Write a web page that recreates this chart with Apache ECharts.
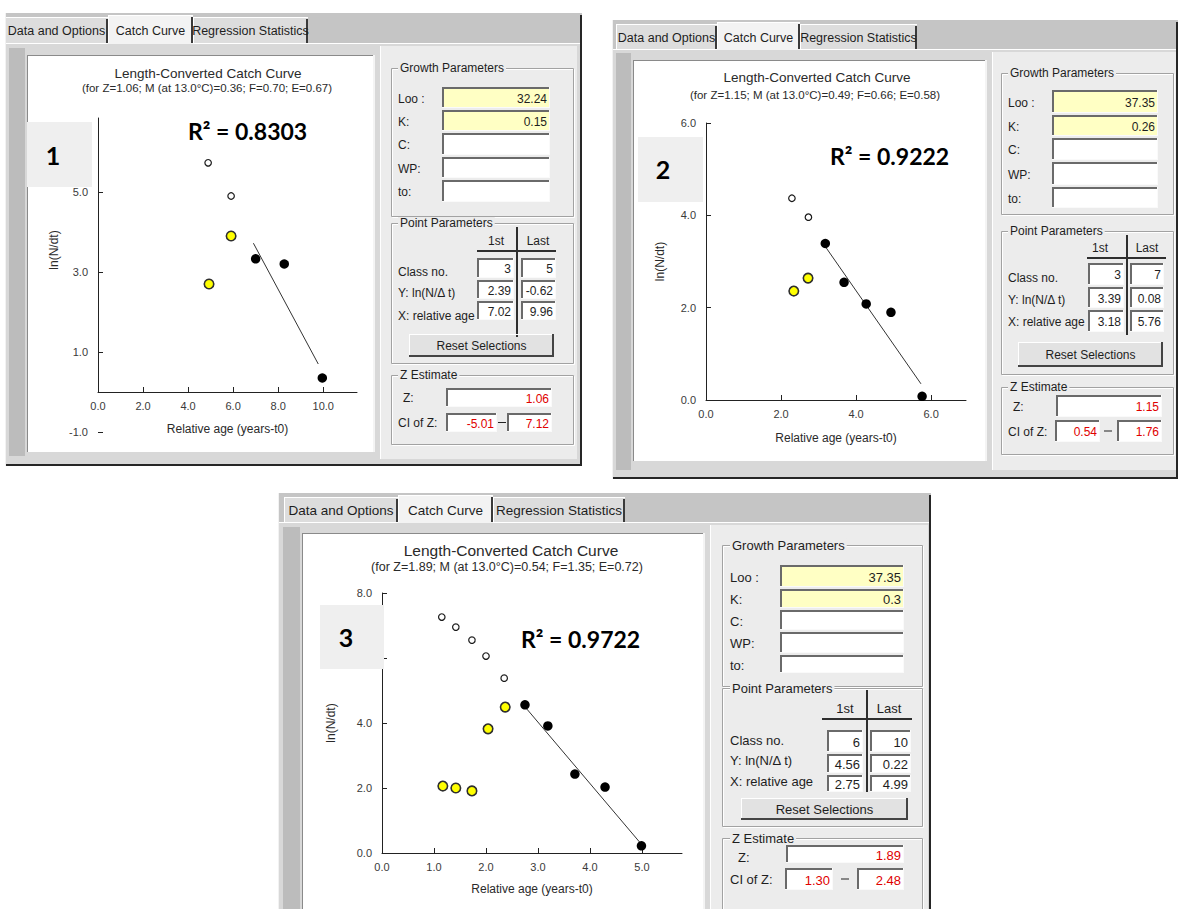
<!DOCTYPE html>
<html><head><meta charset="utf-8">
<script src="https://cdn.jsdelivr.net/npm/echarts@6/dist/echarts.min.js"></script>
<style>html,body{margin:0;padding:0;background:#fff}#c{width:1178px;height:909px}</style>
</head><body><div id="c"></div>
<script>
// ---------------- DATA ----------------
// Panel 1
const p1OpenPts   = [[4.89,5.73],[5.91,4.90]];
const p1YellowPts = [[4.93,2.70],[5.91,3.90]];
const p1BlackPts  = [[7.00,3.33],[8.27,3.20],[9.96,0.35]];
const p1RegLine   = [[6.90,3.72],[9.78,0.70]];
const p1XTicks = [0,2,4,6,8,10];
const p1YTicks = [-1,1,3,5];
// Panel 2
const p2OpenPts   = [[2.29,4.37],[2.73,3.96]];
const p2YellowPts = [[2.34,2.36],[2.72,2.64]];
const p2BlackPts  = [[3.18,3.39],[3.68,2.55],[4.27,2.08],[4.93,1.90],[5.76,0.08]];
const p2RegLine   = [[3.20,3.30],[5.73,0.35]];
const p2XTicks = [0,2,4,6];
const p2YTicks = [0,2,4,6];
// Panel 3
const p3OpenPts   = [[1.15,7.26],[1.42,6.95],[1.73,6.55],[2.00,6.06],[2.35,5.38]];
const p3YellowPts = [[1.17,2.06],[1.42,2.00],[1.73,1.91],[2.04,3.82],[2.37,4.49]];
const p3BlackPts  = [[2.75,4.56],[3.19,3.91],[3.71,2.43],[4.29,2.03],[4.99,0.22]];
const p3RegLine   = [[2.77,4.46],[5.00,0.25]];
const p3XTicks = [0,1,2,3,4,5];
const p3YTicks = [0,2,4,6,8];
// Texts
const tabNames = ['Data and Options','Catch Curve','Regression Statistics'];
const chartTitle = 'Length-Converted Catch Curve';
const chartSubtitles = [
  '(for Z=1.06; M (at 13.0°C)=0.36; F=0.70; E=0.67)',
  '(for Z=1.15; M (at 13.0°C)=0.49; F=0.66; E=0.58)',
  '(for Z=1.89; M (at 13.0°C)=0.54; F=1.35; E=0.72)'];
const xAxisName = 'Relative age (years-t0)';
const yAxisName = 'ln(N/dt)';
const panelLabels = ['1','2','3'];
const rSquared = ['0.8303','0.9222','0.9722'];
const growthLabels = ['Loo :','K:','C:','WP:','to:'];
const growthLoo = ['32.24','37.35','37.35'];
const growthK = ['0.15','0.26','0.3'];
const pointLabels = ['Class no.','Y: ln(N/\u0394 t)','X: relative age'];
const classNo = [['3','5'],['3','7'],['6','10']];
const lnN = [['2.39','-0.62'],['3.39','0.08'],['4.56','0.22']];
const relAge = [['7.02','9.96'],['3.18','5.76'],['2.75','4.99']];
const zValue = ['1.06','1.15','1.89'];
const ciZ = [['-5.01','7.12'],['0.54','1.76'],['1.30','2.48']];

// ---------------- HELPERS ----------------
const FF = '"Liberation Sans", Arial, sans-serif';
const G = [];
function R(x0,y0,x1,y1,fill,z){G.push({type:'rect',silent:true,z:z===undefined?-10:z,shape:{x:x0,y:y0,width:x1-x0,height:y1-y0},style:{fill:fill}});}
function B(x0,y0,x1,y1,color,z){G.push({type:'rect',silent:true,z:z===undefined?-7:z,shape:{x:x0,y:y0,width:x1-x0,height:y1-y0},style:{fill:'none',stroke:color,lineWidth:1}});}
function Ln(x0,y0,x1,y1,color,w,z){G.push({type:'line',silent:true,z:z===undefined?-7:z,shape:{x1:x0,y1:y0,x2:x1,y2:y1},style:{stroke:color,lineWidth:w||1}});}
function T(x,y,s,o){o=o||{};const st={text:s,x:x,y:y,font:(o.w||'normal')+' '+(o.size||12)+'px '+(o.fam||FF),fill:o.color||'#1e1e1e',textAlign:o.align||'left',textVerticalAlign:'middle'};
  if(o.bg){st.backgroundColor=o.bg;st.padding=[0,2,0,2];}
  G.push({type:'text',silent:true,z:o.z===undefined?-5:o.z,style:st});}
function Input(x0,y0,x1,y1,val,fill,color,size){
  R(x0,y0,x1,y1,fill,-8);
  Ln(x0,y0+1,x1,y0+1,'#6a6a6a',2,-7); Ln(x0+1,y0,x0+1,y1,'#6a6a6a',2,-7);
  Ln(x0,y1-0.5,x1,y1-0.5,'#fafafa',1,-7); Ln(x1-0.5,y0,x1-0.5,y1,'#fafafa',1,-7);
  if(val) T(x1-3,(y0+y1)/2+1,val,{size:size,color:color,align:'right'});
}
function Group(x0,y0,x1,y1,label,lx,size){
  B(x0+0.5,y0+0.5,x1-0.5,y1-0.5,'#a2a2a2'); B(x0+1.5,y0+1.5,x1+0.5,y1+0.5,'#ffffff',-8);
  T(lx,y0,label,{size:size,bg:'#ececec'});
}
function Button(x0,y0,x1,y1,label,size){
  R(x0,y0,x1,y1,'#e2e2e2',-8);
  Ln(x0,y0+0.5,x1,y0+0.5,'#ffffff',1); Ln(x0+0.5,y0,x0+0.5,y1,'#ffffff',1);
  Ln(x0,y1-1,x1,y1-1,'#444',2); Ln(x1-1,y0,x1-1,y1,'#444',2);
  T((x0+x1)/2,(y0+y1)/2,label,{size:size,align:'center'});
}
function Win(W){
  R(W.x0,W.y0,W.x1,W.y1,'#c5c5c5',-12);
  R(W.x0,W.ty1,W.x1,W.y1,'#d8d8d8',-11);
  W.tabs.forEach(function(t,i){
    const sel=i===1; const y0=sel?W.ty0-2:W.ty0;
    R(t[0],y0,t[1],W.ty1+(sel?1:0),sel?'#f3f3f3':'#dddddd',-10);
    Ln(t[0]+0.5,y0,t[0]+0.5,W.ty1,'#ffffff',1,-9); Ln(t[0],y0+0.5,t[1],y0+0.5,'#ffffff',1,-9);
    Ln(t[1]-1,y0+2,t[1]-1,W.ty1,'#3a3a3a',2,-9);
    T((t[0]+t[1])/2,(W.ty0+W.ty1)/2+1,tabNames[i],{size:W.tfs,align:'center'});
  });
  Ln(W.x0,W.ty1+0.5,W.tabs[1][0],W.ty1+0.5,'#ffffff',1,-9);
  Ln(W.tabs[1][1],W.ty1+0.5,W.x1,W.ty1+0.5,'#ffffff',1,-9);
  R(W.strip[0],W.strip[1],W.strip[2],W.strip[3],'#bcbcbc',-10);
  R(W.white[0],W.white[1],W.white[2],W.white[3],'#ffffff',-10);
  Ln(W.white[0],W.white[1]+0.5,W.white[2],W.white[1]+0.5,'#8a8a8a',1,-9);
  Ln(W.white[0]+0.5,W.white[1],W.white[0]+0.5,W.white[3],'#8a8a8a',1,-9);
  Ln(W.white[2]+1,W.white[1],W.white[2]+1,W.white[3],'#f4f4f4',2,-9);
  Ln(W.x0,W.y1-1,W.x1,W.y1-1,'#262626',2,-9);
  Ln(W.x1-1,W.y0+2,W.x1-1,W.y1,'#262626',2,-9);
  Ln(W.x0+0.5,W.y0,W.x0+0.5,W.y1,'#f2f2f2',1,-9);
}
function Right(L,k){
  const fs=L.fs;
  R(L.bg[0],L.bg[1],L.bg[2],L.bg[3],'#ececec',-10);
  Ln(L.bg[0]+0.5,L.bg[1],L.bg[0]+0.5,L.bg[3],'#ffffff',1,-9);
  Group(L.gx0,L.g1[0],L.gx1,L.g1[1],'Growth Parameters',L.lx,fs);
  growthLabels.forEach(function(t,i){
    const r=L.rows[i];
    T(L.lx,(r[0]+r[1])/2+1,t,{size:fs});
    const v=i===0?growthLoo[k]:(i===1?growthK[k]:'');
    Input(L.inp[0],r[0],L.inp[1],r[1],v,i<2?'#ffffc4':'#ffffff','#1e1e1e',fs);
  });
  Group(L.gx0,L.g2[0],L.gx1,L.g2[1],'Point Parameters',L.lx,fs);
  T(L.c1x,L.hy,'1st',{size:fs,align:'center'});
  T(L.c2x,L.hy,'Last',{size:fs,align:'center'});
  Ln(L.hl[0],L.hl[2],L.hl[1],L.hl[2],'#2e2e2e',2);
  Ln(L.vl[0],L.vl[1],L.vl[0],L.vl[2],'#2e2e2e',2);
  const pv=[classNo[k],lnN[k],relAge[k]];
  pointLabels.forEach(function(t,i){
    const r=L.prow[i];
    T(L.lx,L.plabY[i],t,{size:fs});
    Input(L.cols[0][0],r[0],L.cols[0][1],r[1],pv[i][0],'#ffffff','#1e1e1e',fs);
    Input(L.cols[1][0],r[0],L.cols[1][1],r[1],pv[i][1],'#ffffff','#1e1e1e',fs);
  });
  Button(L.btn[0],L.btn[1],L.btn[2],L.btn[3],'Reset Selections',fs);
  Group(L.gx0,L.g3[0],L.gx1,L.g3[1],'Z Estimate',L.lx,fs);
  T(L.zl[0],L.zl[1],'Z:',{size:fs});
  Input(L.zbox[0],L.zbox[1],L.zbox[2],L.zbox[3],zValue[k],'#ffffff','#e00000',fs);
  T(L.cil[0],L.cil[1],'CI of Z:',{size:fs});
  Input(L.ci1[0],L.ciY[0],L.ci1[1],L.ciY[1],ciZ[k][0],'#ffffff','#e00000',fs);
  Ln(L.dash-4,(L.ciY[0]+L.ciY[1])/2,L.dash+4,(L.ciY[0]+L.ciY[1])/2,'#222',1);
  Input(L.ci2[0],L.ciY[0],L.ci2[1],L.ciY[1],ciZ[k][1],'#ffffff','#e00000',fs);
}

// ---------------- CHROME ----------------
Win({x0:5,y0:13,x1:582,y1:466,ty0:17,ty1:43,tfs:12.5,tabs:[[5,108],[108,193],[193,308]],strip:[9,48,25,456],white:[27,55,373,452]});
Win({x0:612,y0:20,x1:1178,y1:479,ty0:24,ty1:49,tfs:12.5,tabs:[[616,717],[717,800],[800,917]],strip:[616,53,631,470],white:[633,60,985,461]});
Win({x0:278,y0:493,x1:931,y1:912,ty0:497,ty1:522,tfs:13.5,tabs:[[284,398],[398,493],[493,625]],strip:[283,527,300,912],white:[302,533,703,912]});

Right({fs:12,bg:[380,46,577,459],gx0:391,gx1:574,lx:398,g1:[68,217],
  rows:[[87,108],[110,131],[133,155],[157,178],[180,202]],inp:[442,550],
  g2:[223,364],hy:241,c1x:496,c2x:538,hl:[477,556,251],vl:[517,227,337],
  cols:[[477,514],[521,556]],prow:[[258,278],[280,299],[301,320]],plabY:[272,293,316],
  btn:[409,334,554,357],g3:[375,445],zl:[403,398],zbox:[446,388,552,407],
  cil:[398,423],ci1:[446,497],ci2:[507,552],ciY:[413,432],dash:502},0);
Right({fs:12,bg:[992,52,1176,470],gx0:1001,gx1:1174,lx:1008,g1:[73,215],
  rows:[[90,113],[115,136],[138,160],[162,185],[187,208]],inp:[1052,1158],
  g2:[231,375],hy:248,c1x:1100,c2x:1147,hl:[1087,1166,258],vl:[1127,235,335],
  cols:[[1088,1124],[1130,1164]],prow:[[263,285],[287,308],[310,332]],plabY:[278,300,322],
  btn:[1018,342,1163,367],g3:[387,455],zl:[1013,407],zbox:[1056,395,1162,417],
  cil:[1008,432],ci1:[1055,1100],ci2:[1117,1162],ciY:[420,442],dash:1108},1);
Right({fs:13,bg:[710,525,928,912],gx0:722,gx1:923,lx:730,g1:[545,687],
  rows:[[565,587],[589,608],[610,630],[632,653],[655,673]],inp:[780,904],
  g2:[688,827],hy:708,c1x:845,c2x:889,hl:[822,912,719],vl:[867,690,792],
  cols:[[827,863],[870,911]],prow:[[730,752],[754,773],[775,792]],plabY:[740,760,781],
  btn:[741,798,908,820],g3:[838,920],zl:[738,857],zbox:[786,845,904,863],
  cil:[730,879],ci1:[785,833],ci2:[857,904],ciY:[868,890],dash:845},2);

// titles
T(208,73,chartTitle,{size:13.5,color:'#2a2a2a',align:'center'});
T(207,88,chartSubtitles[0],{size:11.5,color:'#2a2a2a',align:'center'});
T(817,77,chartTitle,{size:13.5,color:'#2a2a2a',align:'center'});
T(815,95,chartSubtitles[1],{size:11.5,color:'#2a2a2a',align:'center'});
T(511,550,chartTitle,{size:15.5,color:'#2a2a2a',align:'center'});
T(507,567,chartSubtitles[2],{size:12.5,color:'#2a2a2a',align:'center'});

// overlays: panel numbers and R²
R(27,122,92,187,'#efefef',10);  T(53,155,panelLabels[0],{size:25,w:'bold',fam:'Lato',z:11,align:'center',color:'#000'});
R(638,137,703,202,'#efefef',10); T(663,169,panelLabels[1],{size:25,w:'bold',fam:'Lato',z:11,align:'center',color:'#000'});
R(320,605,384,669,'#efefef',10); T(346,637,panelLabels[2],{size:25,w:'bold',fam:'Lato',z:11,align:'center',color:'#000'});
T(188,131,'R\u00b2 = '+rSquared[0],{size:23,w:'bold',fam:'Lato',z:11,color:'#000'});
T(830,156,'R\u00b2 = '+rSquared[1],{size:23,w:'bold',fam:'Lato',z:11,color:'#000'});
T(521,639,'R\u00b2 = '+rSquared[2],{size:23,w:'bold',fam:'Lato',z:11,color:'#000'});

// ---------------- CHART ----------------
const fmt = function(v){return v.toFixed(1);};
const labelStyle = {color:'#3a3a3a',fontSize:11,fontFamily:FF};
const nameStyle = {color:'#2a2a2a',fontSize:12,fontFamily:FF};
function xAx(i,max,ticks,gap){
  return {type:'value',gridIndex:i,min:0,max:max,
    axisLine:{onZero:false,lineStyle:{color:'#222',width:1}},
    axisTick:{show:true,inside:true,length:5,customValues:ticks,lineStyle:{color:'#222'}},
    axisLabel:Object.assign({customValues:ticks,formatter:fmt,margin:8},labelStyle),
    splitLine:{show:false},
    name:xAxisName,nameLocation:'middle',nameGap:gap,nameTextStyle:nameStyle};
}
function yAx(i,min,max,ticks,gap,showLine,showLabels,pad){
  const nts=Object.assign({},nameStyle);
  if(pad) nts.padding=pad;
  const ax={type:'value',gridIndex:i,min:min,max:max,
    axisLine:{show:showLine,onZero:false,lineStyle:{color:'#222',width:1}},
    axisTick:{show:showLabels,inside:true,length:5,customValues:ticks,lineStyle:{color:'#222'}},
    axisLabel:Object.assign({show:showLabels,customValues:ticks,formatter:fmt,margin:10},labelStyle),
    splitLine:{show:false}};
  if(showLabels){ax.name=yAxisName;ax.nameLocation='middle';ax.nameGap=gap;ax.nameTextStyle=nts;}
  return ax;
}
function panelSeries(i,open,yellow,black,reg){
  return [
    {type:'line',xAxisIndex:i,yAxisIndex:i,data:reg,symbol:'none',silent:true,
      lineStyle:{color:'#333',width:1},z:1},
    {type:'scatter',xAxisIndex:i,yAxisIndex:i,data:open,symbol:'circle',symbolSize:6.5,silent:true,
      itemStyle:{color:'#ffffff',borderColor:'#1a1a1a',borderWidth:1.2,opacity:1}},
    {type:'scatter',xAxisIndex:i,yAxisIndex:i,data:yellow,symbol:'circle',symbolSize:9.5,silent:true,
      itemStyle:{color:'#ffff00',borderColor:'#2e2e2e',borderWidth:1.6,opacity:1}},
    {type:'scatter',xAxisIndex:i,yAxisIndex:i,data:black,symbol:'circle',symbolSize:9.5,silent:true,
      itemStyle:{color:'#000000',opacity:1}}
  ];
}

const option = {
  animation:false,
  backgroundColor:'#ffffff',
  graphic:{elements:G},
  grid:[
    {left:98,top:118,width:259,height:274,containLabel:false,outerBoundsMode:'none'},
    {left:706,top:123,width:260,height:277,containLabel:false,outerBoundsMode:'none'},
    {left:382,top:593,width:300,height:260,containLabel:false,outerBoundsMode:'none'},
    // panel 1 tick/label scale (same mapping, extended down to -1.0)
    {left:98,top:118,width:259,height:314,containLabel:false,outerBoundsMode:'none'}
  ],
  xAxis:[xAx(0,11.5,p1XTicks,31),xAx(1,6.93,p2XTicks,32),xAx(2,5.77,p3XTicks,30),
    {type:'value',gridIndex:3,min:0,max:11.5,show:false}],
  yAxis:[yAx(0,0,6.85,p1YTicks,38,true,false,null),
    yAx(1,0,6,p2YTicks,40,true,true,null),
    yAx(2,0,8,p3YTicks,45,true,true,null),
    yAx(3,-1,6.85,p1YTicks,38,false,true,[0,0,0,50])],
  series:[].concat(
    panelSeries(0,p1OpenPts,p1YellowPts,p1BlackPts,p1RegLine),
    panelSeries(1,p2OpenPts,p2YellowPts,p2BlackPts,p2RegLine),
    panelSeries(2,p3OpenPts,p3YellowPts,p3BlackPts,p3RegLine))
};
const chart = echarts.init(document.getElementById('c'),null,{renderer:'svg'});
chart.setOption(option);
</script>
</body></html>
